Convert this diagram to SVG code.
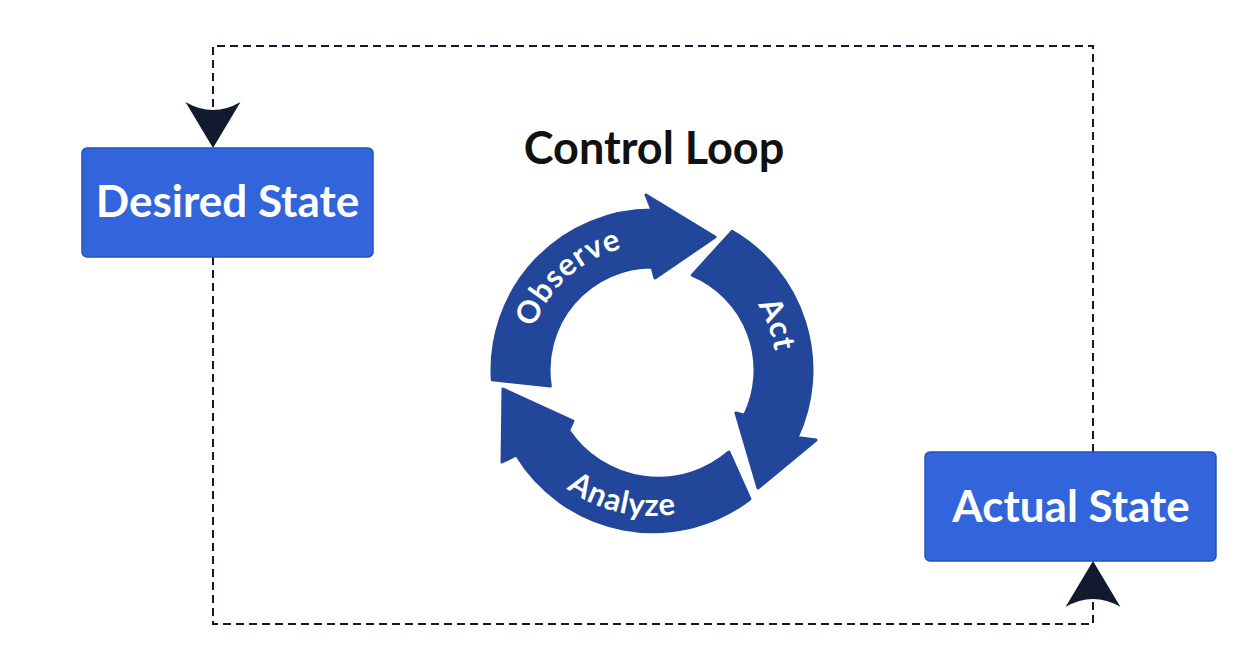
<svg xmlns="http://www.w3.org/2000/svg" width="1238" height="670" viewBox="0 0 1238 670">
  <style>
    .box { fill: #3264dc; stroke: #2450b8; stroke-width: 1.5; }
    .boxtext { font-family: Lato, "Noto Sans", "Liberation Sans", sans-serif; font-weight: 700; font-size: 44px; fill: #ffffff; text-anchor: middle; }
    .title { font-family: Lato, "Noto Sans", "Liberation Sans", sans-serif; font-weight: 700; font-size: 45px; fill: #111111; text-anchor: middle; }
    .seg { fill: #21469a; stroke: #21469a; stroke-width: 3; stroke-linejoin: round; }
    .seglabel { font-family: Lato, "Noto Sans", "Liberation Sans", sans-serif; font-weight: 700; font-size: 31px; fill: #ffffff; letter-spacing: 1px; }
    .conn { fill: none; stroke: #111a2e; stroke-width: 2; stroke-dasharray: 8 5; }
  </style>
  <defs>
    <marker id="head" markerUnits="userSpaceOnUse" viewBox="-50 -30 52 60" refX="0" refY="0" markerWidth="52" markerHeight="60" orient="auto">
      <path d="M0,0 L-46,-27.5 Q-30,0 -46,27.5 Z" fill="#111a2e" stroke="none"/>
    </marker>
    <path id="obsPath" d="M528.2,352.6 A125,125 0 0 1 647.6,245.1"/>
    <path id="actPath" d="M714,262.6 A124,124 0 0 1 768.5,412.4"/>
    <path id="anaPath" d="M535.4,457.9 A146,146 0 0 0 718.3,500.1"/>
  </defs>
  <rect width="1238" height="670" fill="#ffffff"/>

  <g id="connectors">
    <path class="conn" d="M1093,452 V46 H213 V148" marker-end="url(#head)"/>
    <path class="conn" d="M213,257 V624 H1093 V561" marker-end="url(#head)"/>
  </g>

  <g id="desired-state">
    <rect class="box" x="82" y="148" width="291" height="109" rx="5"/>
    <text class="boxtext" x="227.5" y="217">Desired State</text>
  </g>

  <g id="actual-state">
    <rect class="box" x="925" y="452" width="291" height="109" rx="5"/>
    <text class="boxtext" x="1071" y="522">Actual State</text>
  </g>

  <g id="control-loop">
    <text class="title" x="654" y="164">Control Loop</text>
    <g id="observe">
      <path class="seg" d="M492.3,379.8 A160,160 0 0 1 652,210 L646,195 L715,237 L655,278 L652,267 A103,103 0 0 0 550.3,386.1 Z"/>
      <text class="seglabel"><textPath href="#obsPath" startOffset="50%" text-anchor="middle">Observe</textPath></text>
    </g>
    <g id="act">
      <path class="seg" d="M732,231.4 A160,160 0 0 1 797,437.6 L816,440 L758,488 L736,413 L744.6,415.2 A103,103 0 0 0 692.2,275.2 Z"/>
      <text class="seglabel"><textPath href="#actPath" startOffset="50%" text-anchor="middle">Act</textPath></text>
    </g>
    <g id="analyze">
      <path class="seg" d="M750,499 A160,160 0 0 1 516.3,454.8 L502,462 L503,389 L573,421 L568.7,430.5 A108,108 0 0 0 729,452 Z"/>
      <text class="seglabel"><textPath href="#anaPath" startOffset="50%" text-anchor="middle">Analyze</textPath></text>
    </g>
  </g>
</svg>
